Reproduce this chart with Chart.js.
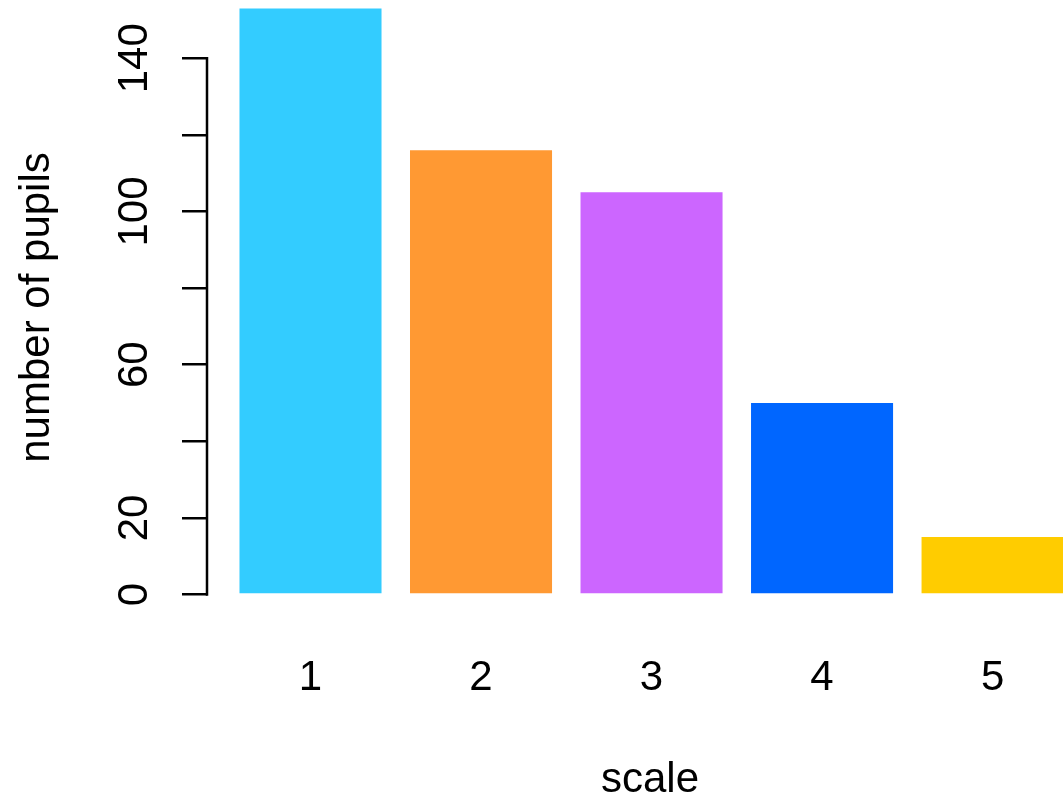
<!DOCTYPE html>
<html>
<head>
<meta charset="utf-8">
<script src="https://cdn.jsdelivr.net/npm/chart.js@4"></script>
<style>
  html, body { margin: 0; padding: 0; background: #fff; overflow: hidden; }
  #wrap { width: 1093px; height: 801px; }
</style>
</head>
<body>
<div id="wrap"><canvas id="bars" width="1093" height="801"></canvas></div>
<script>
/* data */
const categories = ['1', '2', '3', '4', '5'];
const pupils     = [153, 116, 105, 50, 15];
const barColors  = ['#33CCFF', '#FF9933', '#CC66FF', '#0066FF', '#FFCC00'];
const yTicks     = [0, 20, 40, 60, 80, 100, 120, 140];
const yLabels    = ['0', '20', '', '60', '', '100', '', '140'];

const FONT = '"Liberation Sans", Arial, sans-serif';

// R-style axis line that only runs from first to last tick
const axisLine = {
  id: 'axisLine',
  afterDraw(chart) {
    const y = chart.scales.y, ctx = chart.ctx;
    const x = chart.chartArea.left;
    ctx.save();
    ctx.strokeStyle = '#000';
    ctx.lineWidth = 2.5;
    ctx.beginPath();
    ctx.moveTo(x, y.getPixelForValue(yTicks[0]) + 1.25);
    ctx.lineTo(x, y.getPixelForValue(yTicks[yTicks.length - 1]) - 1.25);
    ctx.stroke();
    ctx.restore();
  }
};

new Chart(document.getElementById('bars'), {
  type: 'bar',
  data: {
    datasets: [{
      data: pupils.map((v, i) => ({ x: i + 1, y: v })),
      backgroundColor: barColors,
      borderWidth: 0,
      barPercentage: 0.833,
      categoryPercentage: 1,
    }]
  },
  plugins: [axisLine],
  options: {
    responsive: false,
    animation: false,
    layout: { padding: 0 },
    plugins: { legend: { display: false }, tooltip: { enabled: false } },
    scales: {
      x: {
        type: 'linear',
        offset: false,
        min: 0.393, max: 5.589,
        afterBuildTicks: s => { s.ticks = categories.map((c, i) => ({ value: i + 1 })); },
        afterFit: s => { s.height = 186; s.paddingLeft = 0; s.paddingRight = 0; },
        grid: { display: false, drawTicks: false },
        border: { display: false },
        ticks: {
          color: '#000',
          padding: 38,
          maxRotation: 0,
          font: { family: FONT, size: 42 },
          callback: v => categories[v - 1],
        },
        title: {
          display: true, text: 'scale', color: '#000',
          font: { family: FONT, size: 42, lineHeight: 1 },
          padding: { top: 0, bottom: 0 },
        },
      },
      y: {
        min: -5.35, max: 155.2,
        afterBuildTicks: s => { s.ticks = yTicks.map(v => ({ value: v })); },
        afterFit: s => { s.width = 207; s.paddingTop = 0; s.paddingBottom = 0; },
        grid: { drawOnChartArea: false, drawTicks: true, tickLength: 25, color: '#000', lineWidth: 2.5 },
        border: { display: false },
        ticks: {
          color: '#000',
          padding: 12,
          minRotation: 90, maxRotation: 90,
          crossAlign: 'center',
          font: { family: FONT, size: 42 },
          callback: v => yLabels[yTicks.indexOf(v)],
        },
        title: {
          display: true, text: 'number of pupils', color: '#000',
          font: { family: FONT, size: 42, lineHeight: 1 },
          padding: { top: 16, bottom: 0 },
        },
      }
    }
  }
});
</script>
</body>
</html>
